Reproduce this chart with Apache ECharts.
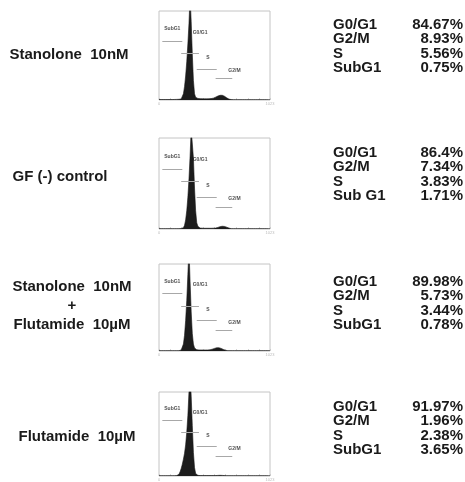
<!DOCTYPE html>
<html><head><meta charset="utf-8">
<script src="https://cdn.jsdelivr.net/npm/echarts@6/dist/echarts.min.js"></script>
<style>html,body{margin:0;padding:0;background:#fff;}#c{width:465px;height:482px;}</style>
</head><body><div id="c"></div>
<script>
// ---- data ----
const conditions = [['Stanolone  10nM'], ['GF (-) control'], ['Stanolone  10nM', '+', 'Flutamide  10µM'], ['Flutamide  10µM']];
const phaseLabels = [
  ['G0/G1', 'G2/M', 'S', 'SubG1'],
  ['G0/G1', 'G2/M', 'S', 'Sub G1'],
  ['G0/G1', 'G2/M', 'S', 'SubG1'],
  ['G0/G1', 'G2/M', 'S', 'SubG1']
];
const phaseValues = [
  ['84.67%', '8.93%', '5.56%', '0.75%'],
  ['86.4%', '7.34%', '3.83%', '1.71%'],
  ['89.98%', '5.73%', '3.44%', '0.78%'],
  ['91.97%', '1.96%', '2.38%', '3.65%']
];
// histogram counts (% of panel height), 101 channel bins
const hist1 = [
  0.5,0.5,0.5,0.5,0.5,0.5,0.5,0.5,0.5,0.5,
  0.5,0.5,0.5,0.6,0.6,0.6,0.7,0.7,0.8,0.9,
  1.2,3,7,15,27,43,63,86,118,88,
  52,22,7,3,2,1.8,1.6,1.5,1.4,1.4,
  1.3,1.3,1.3,1.3,1.4,1.4,1.5,1.6,1.8,2.1,
  2.6,3.2,3.8,4.4,4.9,5.3,5.5,5.3,4.9,4.2,
  3.3,2.4,1.6,1,0.7,0.5,0.5,0.4,0.4,0.4,
  0.4,0.4,0.4,0.4,0.4,0.4,0.4,0.4,0.4,0.4,
  0.4,0.4,0.4,0.4,0.4,0.4,0.4,0.4,0.4,0.4,
  0.4,0.4,0.4,0.4,0.4,0.4,0.4,0.4,0.4,0.4,0.4
];
const hist2 = [
  0.4,0.4,0.4,0.4,0.4,0.4,0.4,0.4,0.4,0.4,
  0.4,0.4,0.4,0.4,0.4,0.4,0.4,0.4,0.4,0.4,
  0.5,0.8,1.5,4,10,20,35,55,80,110,
  112,78,45,20,7,3,1.5,1,0.9,0.9,
  0.8,0.8,0.8,0.8,0.8,0.8,0.8,0.8,0.8,0.9,
  0.9,1,1.3,1.7,2.2,2.6,2.9,3,3.1,2.8,
  2.5,2,1.5,1,0.7,0.4,0.4,0.4,0.4,0.4,
  0.4,0.4,0.4,0.4,0.4,0.4,0.4,0.4,0.4,0.4,
  0.4,0.4,0.4,0.4,0.4,0.4,0.4,0.4,0.4,0.4,
  0.4,0.4,0.4,0.4,0.4,0.4,0.4,0.4,0.4,0.4,0.4
];
const hist3 = [
  0.4,0.4,0.4,0.4,0.4,0.4,0.4,0.4,0.4,0.4,
  0.4,0.4,0.4,0.4,0.4,0.4,0.4,0.4,0.4,0.6,
  1.2,3,8,18,35,58,88,118,80,45,
  20,8,3.5,2,1.5,1.3,1.2,1.2,1.2,1.2,
  1.2,1.2,1.2,1.2,1.2,1.3,1.4,1.7,2.1,2.6,
  3,3.4,3.7,3.8,3.7,3.4,3,2.4,1.8,1.2,
  0.8,0.6,0.4,0.4,0.4,0.4,0.4,0.4,0.4,0.4,
  0.4,0.4,0.4,0.4,0.4,0.4,0.4,0.4,0.4,0.4,
  0.4,0.4,0.4,0.4,0.4,0.4,0.4,0.4,0.4,0.4,
  0.4,0.4,0.4,0.4,0.4,0.4,0.4,0.4,0.4,0.4,0.4
];
const hist4 = [
  0.4,0.4,0.4,0.4,0.4,0.4,0.4,0.4,0.4,0.4,
  0.4,0.4,0.4,0.4,0.4,0.4,0.5,0.8,2,5,
  9,14,20,27,37,52,72,100,122,95,
  60,28,10,3,1.2,0.8,0.5,0.5,0.5,0.5,
  0.5,0.5,0.5,0.5,0.5,0.5,0.5,0.5,0.5,0.5,
  0.5,0.5,0.6,0.7,0.8,0.8,0.8,0.7,0.6,0.5,
  0.5,0.4,0.4,0.4,0.4,0.4,0.4,0.4,0.4,0.4,
  0.4,0.4,0.4,0.4,0.4,0.4,0.4,0.4,0.4,0.4,
  0.4,0.4,0.4,0.4,0.4,0.4,0.4,0.4,0.4,0.4,
  0.4,0.4,0.4,0.4,0.4,0.4,0.4,0.4,0.4,0.4,0.4
];
const histograms = [hist1, hist2, hist3, hist4];
// gate markers (channel range, level) and their label anchors
const gateNames = ['SubG1', 'G0/G1', 'S', 'G2/M'];
const gateFrom = [3, 20, 34, 51];
const gateTo = [21, 36, 52, 66];
const gateLevel = [66, 52, 35, 24];
const gateLabelX = [12, 37, 44, 68];
const gateLabelY = [80, 76, 48, 33];
const xTickLabels = ['0', '1023'];

// ---- layout ----
const gridTops = [11, 138, 264, 392];
const gridHeights = [89, 91, 87, 92];
const condX = [69, 60, 72, 77];
const condY = [[55], [177], [287, 306, 325], [437]];
const statTop = [25, 153, 282, 407];
const rowGap = 14.2;
const FONT = '"Liberation Sans", Arial, Helvetica, sans-serif';

const chart = echarts.init(document.getElementById('c'), null, {renderer: 'canvas'});
const grids = [], xAxes = [], yAxes = [], series = [], graphics = [];
histograms.forEach((h, p) => {
  grids.push({left: 159, width: 111, top: gridTops[p], height: gridHeights[p], show: true,
    borderColor: '#c4c4c4', borderWidth: 1, backgroundColor: 'transparent'});
  xAxes.push({type: 'value', gridIndex: p, min: 0, max: 100, interval: 10,
    axisLine: {show: false}, splitLine: {show: false},
    axisTick: {show: true, inside: true, length: 2, lineStyle: {color: '#bbb', width: 0.6}},
    axisLabel: {show: true, fontSize: 4, color: '#bbb', margin: 2,
      formatter: v => v === 0 ? xTickLabels[0] : (v === 100 ? xTickLabels[1] : '')}});
  yAxes.push({type: 'value', gridIndex: p, min: 0, max: 100,
    axisLine: {show: false}, splitLine: {show: false}, axisTick: {show: false}, axisLabel: {show: false}});
  series.push({
    type: 'line', xAxisIndex: p, yAxisIndex: p, symbol: 'none', smooth: false, clip: true,
    data: h.map((v, i) => [i, v]),
    lineStyle: {color: '#151515', width: 0.6},
    areaStyle: {color: '#1c1c1c', opacity: 1},
    markLine: {silent: true, symbol: 'none', label: {show: false},
      lineStyle: {color: '#a8a8a8', width: 1, type: 'solid'},
      data: gateNames.map((n, g) => [{coord: [gateFrom[g], gateLevel[g]]}, {coord: [gateTo[g], gateLevel[g]]}])}
  });
  series.push({
    type: 'scatter', xAxisIndex: p, yAxisIndex: p, symbolSize: 0, silent: true,
    data: gateNames.map((n, g) => [gateLabelX[g], gateLabelY[g], n]),
    label: {show: true, position: 'inside', formatter: d => d.data[2], fontSize: 5,
      fontWeight: 'bold', color: '#222', fontFamily: FONT}
  });
  conditions[p].forEach((t, k) => {
    graphics.push({type: 'text', x: condX[p], y: condY[p][k], style: {text: t,
      font: 'bold 15px ' + FONT, fill: '#1a1a1a', textAlign: 'center', textVerticalAlign: 'middle'}});
  });
  phaseLabels[p].forEach((t, k) => {
    graphics.push({type: 'text', x: 333, y: statTop[p] + k * rowGap, style: {text: t,
      font: 'bold 15px ' + FONT, fill: '#1a1a1a', textAlign: 'left', textVerticalAlign: 'middle'}});
    graphics.push({type: 'text', x: 463, y: statTop[p] + k * rowGap, style: {text: phaseValues[p][k],
      font: 'bold 15px ' + FONT, fill: '#1a1a1a', textAlign: 'right', textVerticalAlign: 'middle'}});
  });
});
chart.setOption({
  animation: false,
  backgroundColor: '#ffffff',
  grid: grids, xAxis: xAxes, yAxis: yAxes, series: series,
  graphic: graphics
});
</script></body></html>
